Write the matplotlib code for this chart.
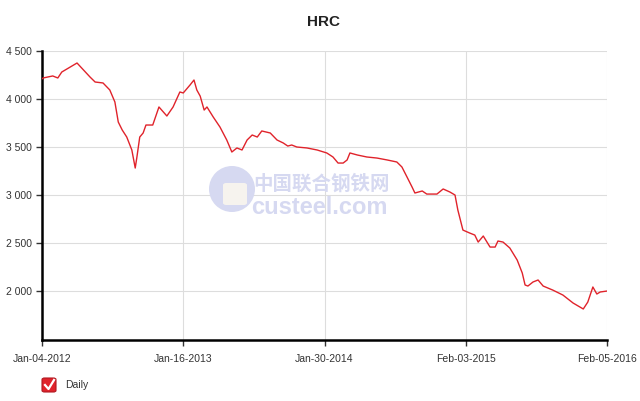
import matplotlib
matplotlib.use("Agg")
import matplotlib.pyplot as plt
from matplotlib.patches import Ellipse, FancyBboxPatch

# trading-day index (0..1000) and HRC price
day_idx = [0, 2, 19, 28, 35, 62, 85, 94, 108, 120, 129, 135, 142, 150, 159, 165,
           168, 173, 179, 184, 196, 207, 221, 232, 244, 250, 262, 269, 274, 280,
           287, 292, 303, 315, 327, 336, 345, 354, 363, 372, 381, 389, 404, 416,
           427, 435, 442, 451, 469, 487, 504, 515, 524, 533, 540, 545, 558, 575,
           593, 611, 628, 637, 646, 655, 660, 673, 681, 699, 710, 722, 731, 736,
           745, 757, 766, 772, 781, 793, 802, 807, 816, 828, 841, 850, 855, 860,
           869, 878, 887, 904, 922, 940, 958, 966, 975, 982, 988, 1000]
price = [4210, 4219, 4240, 4219, 4281, 4375, 4229, 4177, 4167, 4094, 3969, 3760,
         3677, 3604, 3469, 3281, 3396, 3604, 3646, 3729, 3729, 3917, 3823, 3917,
         4073, 4063, 4146, 4198, 4094, 4030, 3885, 3917, 3813, 3708, 3573, 3448,
         3490, 3469, 3573, 3625, 3604, 3667, 3646, 3573, 3542, 3510, 3521, 3500,
         3490, 3469, 3438, 3396, 3333, 3333, 3365, 3438, 3417, 3396, 3385, 3365,
         3344, 3292, 3188, 3083, 3021, 3042, 3010, 3010, 3063, 3031, 3000, 2844,
         2635, 2604, 2583, 2510, 2573, 2458, 2458, 2521, 2510, 2448, 2323, 2188,
         2063, 2052, 2094, 2115, 2052, 2010, 1958, 1875, 1813, 1885, 2042, 1969,
         1990, 2000]

x_ticks = [0, 250, 500, 750, 1000]
x_labels = ["Jan-04-2012", "Jan-16-2013", "Jan-30-2014", "Feb-03-2015", "Feb-05-2016"]
y_ticks = [2000, 2500, 3000, 3500, 4000, 4500]
y_labels = ["2 000", "2 500", "3 000", "3 500", "4 000", "4 500"]

plt.rcParams["font.family"] = ["Liberation Sans", "DejaVu Sans"]

W, H = 640, 401
fig = plt.figure(figsize=(6.4, 4.01), dpi=100)
ax = fig.add_axes([42 / W, 1 - 340 / H, 565 / W, 289 / H])

# watermark (behind the axes)
wm = "#d6d9f1"
fig.patches.append(Ellipse((232 / W, 1 - 189 / H), 46 / W, 46 / H, transform=fig.transFigure,
                           facecolor=wm, edgecolor="none", zorder=0))
fig.patches.append(FancyBboxPatch((223 / W, 1 - 205 / H), 24 / W, 22 / H,
                                  boxstyle="round,pad=0,rounding_size=0.005",
                                  transform=fig.transFigure, facecolor="#f6f3ee",
                                  edgecolor="none", zorder=0))
fig.text(253 / W, 1 - 184 / H, "中国联合钢铁网", family=["Noto Sans CJK SC"],
         fontsize=14, color=wm, va="center", weight="bold", zorder=0)
fig.text(251 / W, 1 - 208 / H, "custeel.com", fontsize=17, color=wm,
         va="center", weight="bold", zorder=0)

ax.plot(day_idx, price, color="#e0232b", linewidth=1.0, zorder=3)
ax.patch.set_alpha(0)

ax.set_xlim(0, 1000)
ax.set_ylim(1490, 4500)
ax.set_xticks(x_ticks)
ax.set_xticklabels(x_labels, fontsize=7.5, color="#333333")
ax.set_yticks(y_ticks)
ax.set_yticklabels(y_labels, fontsize=7.5, color="#333333")
ax.grid(True, color="#dddddd", linewidth=0.8)
ax.set_axisbelow(True)
for s in ["top", "right"]:
    ax.spines[s].set_visible(False)
for s in ["left", "bottom"]:
    ax.spines[s].set_linewidth(1.8)
ax.tick_params(axis="both", length=4, width=1, color="#333333", pad=3)
ax.tick_params(axis="x", pad=6)

fig.text(324 / W, 1 - 22 / H, "HRC", ha="center", va="center",
         fontsize=11, weight="bold", color="#222222")

# legend checkbox
fig.patches.append(FancyBboxPatch((42 / W, 1 - 392 / H), 14 / W, 14 / H,
                                  boxstyle="round,pad=0,rounding_size=0.004",
                                  transform=fig.transFigure, facecolor="#e0232b",
                                  edgecolor="#b01820", linewidth=0.8))
fig.lines.append(plt.Line2D([45 / W, 48.5 / W, 54 / W],
                            [1 - 385 / H, 1 - 389 / H, 1 - 380 / H],
                            transform=fig.transFigure, color="white", linewidth=1.6))
fig.text(65 / W, 1 - 385 / H, "Daily", fontsize=7.5, va="center", color="#333333")

fig.savefig("out.png", dpi=100)
